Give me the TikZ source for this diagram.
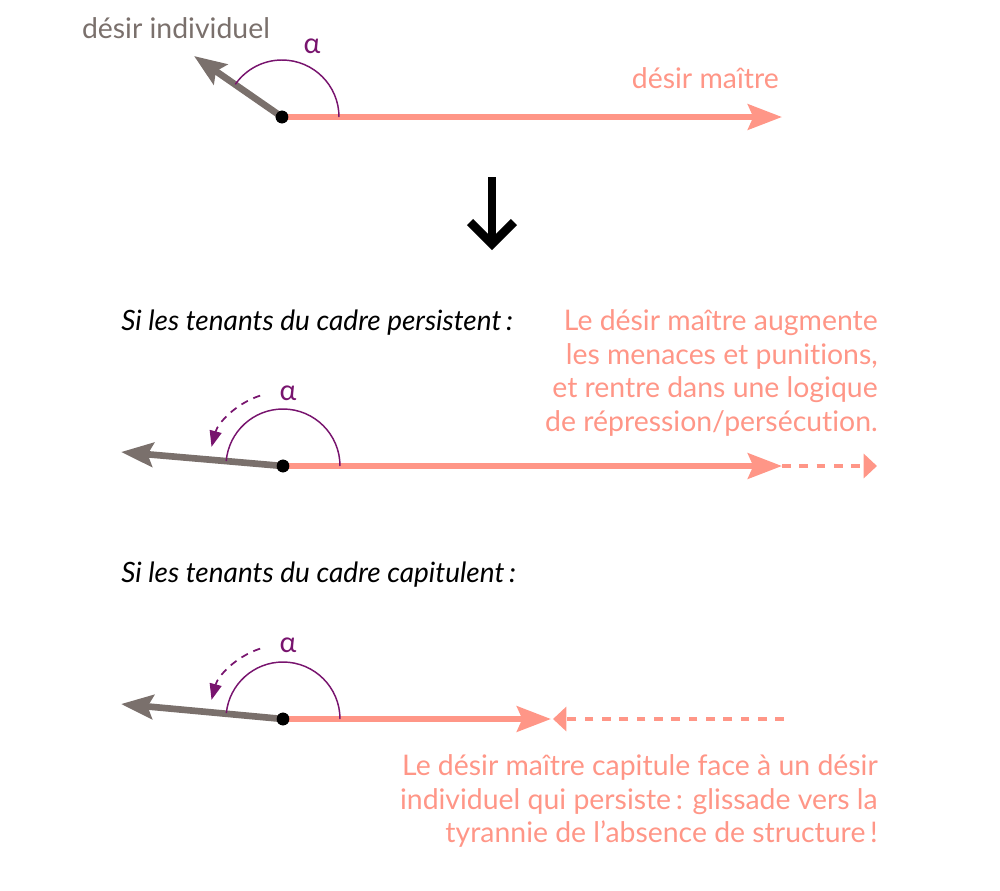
\documentclass[tikz,border=0pt]{standalone}
\usepackage{fontspec}
\setmainfont{Lato}[Ligatures=NoCommon]
\usetikzlibrary{arrows.meta,calc}
\definecolor{pinkc}{RGB}{255,150,135}
\definecolor{greyc}{RGB}{122,112,108}
\definecolor{purplec}{RGB}{120,20,110}
\tikzset{
  txt/.style={inner sep=0pt, font=\fontsize{21.3}{25.2}\selectfont},
  itxt/.style={inner sep=0pt, font=\fontsize{21}{25.2}\selectfont\itshape},
  dotn/.style={circle, fill=black, inner sep=0pt, minimum size=9.5pt},
  pinkline/.style={draw=pinkc, line width=4.5pt, -{Stealth[length=25.5pt, width=19pt, inset=4pt]}},
  greyline/.style={draw=greyc, line width=5pt, -{Stealth[length=24pt, width=18pt, inset=4pt]}},
  pinkdash/.style={draw=pinkc, line width=3pt, dash pattern=on 6.5pt off 6.5pt, -{Triangle[length=10pt, width=18pt]}},
  anglearc/.style={draw=purplec, line width=1.1pt},
  turnarrow/.style={draw=purplec, line width=1.3pt, dash pattern=on 5.5pt off 4.5pt, -{Triangle[length=12pt, width=9pt]}},
  bigarrow/.style={draw=black, line width=6.4pt},
}
\begin{document}
\begin{tikzpicture}[x=0.75pt, y=-0.75pt]
\useasboundingbox (0,0) rectangle (1000,890);
% ---------- top ----------
\node[dotn] (d1) at (282,117) {};
\coordinate (p1) at (782,117);
\coordinate (g1) at (194,56);
\draw[pinkline] (d1.center) -- (p1);
\draw[greyline] (d1.center) -- (g1);
\draw[anglearc] (d1.center) ++(0:57) arc[start angle=0, end angle=-145, radius=57];
\node[dotn] at (d1) {};
\node[txt, text=greyc] (t1) at (176,28) {désir individuel};
\node[txt, text=purplec] (a1) at (312,46) {α};
\node[txt, text=pinkc, anchor=east] (t2) at (779,78) {désir maître};
% ---------- big arrow ----------
\coordinate (b1) at (492,177);
\coordinate (b2) at (492,244);
\draw[bigarrow] (b1) -- (b2);
\draw[bigarrow, miter limit=10] ($(b2)+(-22,-22)$) -- (b2) -- ($(b2)+(22,-22)$);
% ---------- middle ----------
\node[itxt, anchor=west] (s1) at (121,323) {Si les tenants du cadre persistent\,:};
\node[txt, text=pinkc, align=right, anchor=east] (r1) at (878,373) {Le désir maître augmente\\les menaces et punitions,\\et rentre dans une logique\\de répression/persécution.};
\node[dotn] (d2) at (283,466) {};
\coordinate (p2) at (782,466);
\coordinate (p2b) at (877,466);
\coordinate (g2) at (121,452);
\draw[pinkline] (d2.center) -- (p2);
\draw[pinkdash] (p2) -- (p2b);
\draw[greyline] (d2.center) -- (g2);
\draw[anglearc] (d2.center) ++(0:57) arc[start angle=0, end angle=-175, radius=57];
\draw[turnarrow] (d2.center) ++(-108:74) arc[start angle=-108, end angle=-165, radius=74];
\node[dotn] at (d2) {};
\node[txt, text=purplec] (a2) at (288,393) {α};
% ---------- bottom ----------
\node[itxt, anchor=west] (s2) at (121,575) {Si les tenants du cadre capitulent\,:};
\node[dotn] (d3) at (283,719) {};
\coordinate (p3) at (551,719);
\coordinate (q3) at (784,719);
\coordinate (q3b) at (553,719);
\coordinate (g3) at (121,704);
\draw[pinkline] (d3.center) -- (p3);
\draw[pinkdash] (q3) -- (q3b);
\draw[greyline] (d3.center) -- (g3);
\draw[anglearc] (d3.center) ++(0:57) arc[start angle=0, end angle=-174, radius=57];
\draw[turnarrow] (d3.center) ++(-108:74) arc[start angle=-108, end angle=-165, radius=74];
\node[dotn] at (d3) {};
\node[txt, text=purplec] (a3) at (288,645) {α};
\node[txt, text=pinkc, align=right, anchor=east] (r2) at (878,801) {Le désir maître capitule face à un désir\\individuel qui persiste\,: glissade vers la\\tyrannie de l’absence de structure\,!};
\end{tikzpicture}
\end{document}
